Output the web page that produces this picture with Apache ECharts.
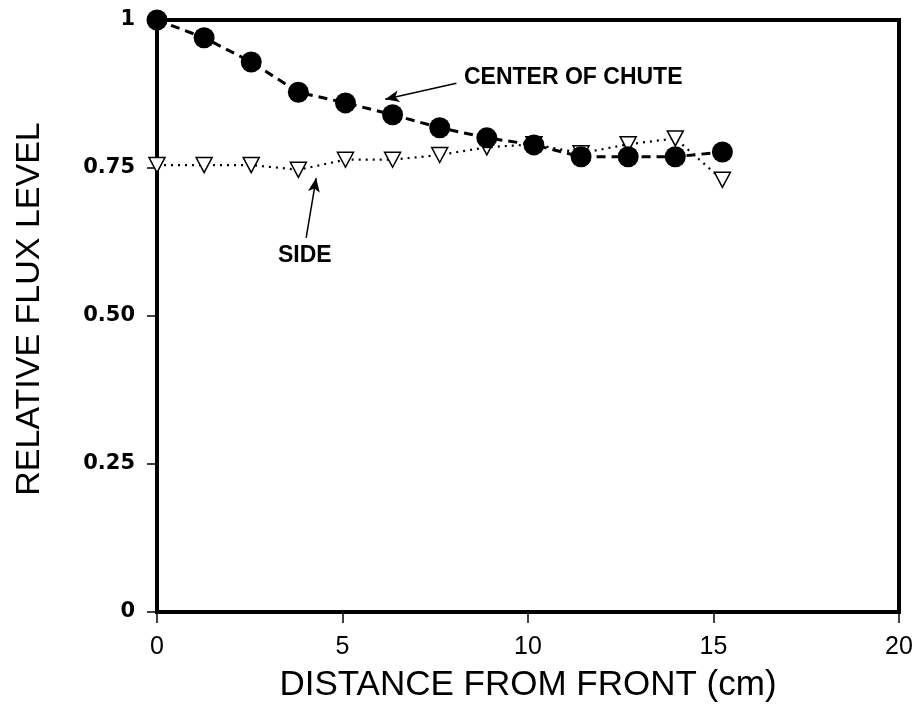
<!DOCTYPE html>
<html>
<head>
<meta charset="utf-8">
<style>
  html, body { margin: 0; padding: 0; background: #fff; }
  #chart { width: 920px; height: 709px; }
</style>
<script src="https://cdn.jsdelivr.net/npm/echarts@6/dist/echarts.min.js"></script>
</head>
<body>
<div id="chart"></div>
<script>
// distance from front (cm), same stations for both series
const DISTANCE = [0, 1.27, 2.54, 3.81, 5.08, 6.35, 7.62, 8.89, 10.16, 11.43, 12.70, 13.97, 15.24];
const CENTER_FLUX = [1.0, 0.97, 0.929, 0.878, 0.86, 0.84, 0.818, 0.801, 0.789, 0.769, 0.769, 0.769, 0.777];
const SIDE_FLUX = [0.755, 0.755, 0.755, 0.747, 0.764, 0.764, 0.772, 0.785, 0.79, 0.775, 0.79, 0.80, 0.73];
const Y_TICK_LABELS = { 0: '0', 0.25: '0.25', 0.5: '0.50', 0.75: '0.75', 1: '1' };

const FONT = '"Liberation Sans", Arial, sans-serif';
const TICK_FONT = '"DejaVu Sans", sans-serif';
const DOWN_TRIANGLE = 'path://M0,0 L10,0 L5,9 Z';

function pairs(xs, ys) {
  return xs.map((x, i) => [x, ys[i]]);
}

const chart = echarts.init(document.getElementById('chart'));

chart.setOption({
  animation: false,
  backgroundColor: '#fff',
  grid: {
    left: 157,
    right: 21,
    top: 20,
    bottom: 97,
    show: true,
    borderColor: '#000',
    borderWidth: 4
  },
  xAxis: {
    type: 'value',
    min: 0,
    max: 20,
    interval: 5,
    name: 'DISTANCE FROM FRONT (cm)',
    nameLocation: 'middle',
    nameGap: 56,
    nameTextStyle: { color: '#000', fontSize: 35, fontFamily: FONT },
    axisLine: { show: true, onZero: false, lineStyle: { color: '#000', width: 4 } },
    axisTick: { show: true, length: 11, lineStyle: { color: '#000', width: 1.5 } },
    axisLabel: { color: '#000', fontSize: 25, fontFamily: FONT, margin: 23 },
    splitLine: { show: false }
  },
  yAxis: {
    type: 'value',
    min: 0,
    max: 1,
    interval: 0.25,
    name: 'RELATIVE FLUX LEVEL',
    nameLocation: 'middle',
    nameGap: 110,
    nameTextStyle: { color: '#000', fontSize: 34, fontFamily: FONT, padding: [0, 0, 0, 14] },
    axisLine: { show: true, onZero: false, lineStyle: { color: '#000', width: 4 } },
    axisTick: { show: true, inside: false, length: 10, lineStyle: { color: '#000', width: 1.5 } },
    axisLabel: {
      color: '#000',
      fontSize: 21,
      fontWeight: 'bold',
      fontFamily: TICK_FONT,
      margin: 22,
      formatter: (v) => Y_TICK_LABELS[v] !== undefined ? Y_TICK_LABELS[v] : String(v)
    },
    splitLine: { show: false }
  },
  series: [
    {
      name: 'SIDE',
      type: 'line',
      data: pairs(DISTANCE, SIDE_FLUX),
      clip: false,
      z: 2,
      symbol: DOWN_TRIANGLE,
      symbolSize: [16, 15],
      itemStyle: { color: '#fff', borderColor: '#000', borderWidth: 1.5 },
      lineStyle: { color: '#000', width: 2.2, type: [2, 5] },
      markLine: {
        silent: true,
        symbol: ['none', 'arrow'],
        symbolSize: [9, 14],
        label: { show: false },
        lineStyle: { color: '#000', width: 1.5, type: 'solid' },
        data: [
          [{ coord: [4.02, 0.632] }, { coord: [4.29, 0.733] }]
        ]
      }
    },
    {
      name: 'CENTER OF CHUTE',
      type: 'line',
      data: pairs(DISTANCE, CENTER_FLUX),
      clip: false,
      z: 3,
      symbol: 'circle',
      symbolSize: 21,
      itemStyle: { color: '#000' },
      lineStyle: { color: '#000', width: 3, type: [9, 6] },
      markLine: {
        silent: true,
        symbol: ['none', 'arrow'],
        symbolSize: [9, 14],
        label: { show: false },
        lineStyle: { color: '#000', width: 1.5, type: 'solid' },
        data: [
          [{ coord: [8.07, 0.893] }, { coord: [6.15, 0.866] }]
        ]
      }
    }
  ],
  graphic: [
    {
      type: 'text',
      left: 464,
      top: 66,
      style: { text: 'CENTER OF CHUTE', fill: '#000', font: 'bold 23px ' + FONT }
    },
    {
      type: 'text',
      left: 278,
      top: 244,
      style: { text: 'SIDE', fill: '#000', font: 'bold 23px ' + FONT }
    }
  ]
});
</script>
</body>
</html>
